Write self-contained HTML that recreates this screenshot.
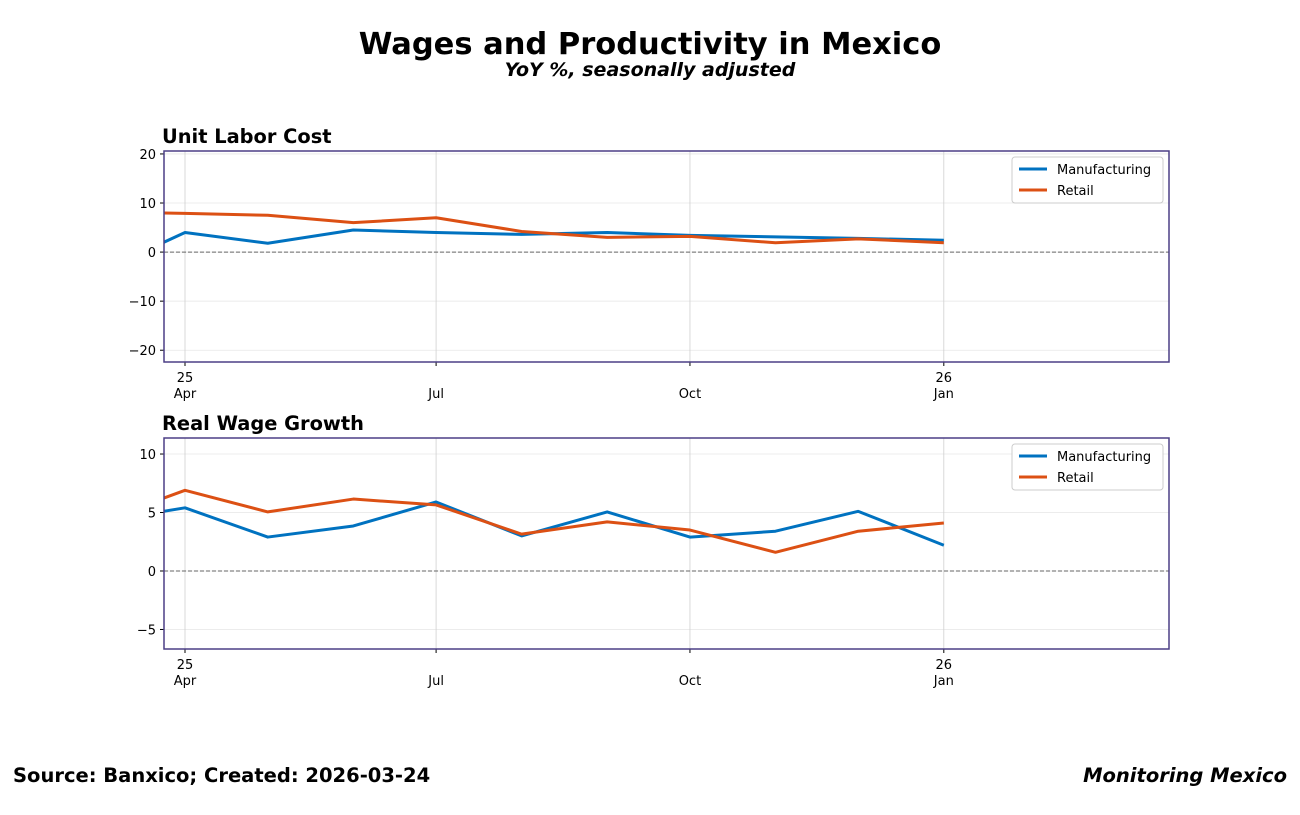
<!DOCTYPE html>
<html><head><meta charset="utf-8">
<style>
body{margin:0;background:#fff;font-family:"Liberation Sans","DejaVu Sans",sans-serif;}
svg text{font-family:"DejaVu Sans","Liberation Sans",sans-serif;}
</style></head>
<body>
<svg id="chart" width="1300" height="810" xmlns="http://www.w3.org/2000/svg">
<text x="650" y="54" text-anchor="middle" font-size="30.5" font-weight="bold">Wages and Productivity in Mexico</text>
<text x="650" y="76" text-anchor="middle" font-size="19" font-weight="bold" font-style="italic">YoY %, seasonally adjusted</text>
<text x="13" y="782" font-size="19.5" font-weight="bold">Source: Banxico; Created: 2026-03-24</text>
<text x="1287" y="782" text-anchor="end" font-size="19.5" font-weight="bold" font-style="italic">Monitoring Mexico</text>
</svg>
<script>
const months = ["2025-03-01","2025-04-01","2025-05-01","2025-06-01","2025-07-01","2025-08-01","2025-09-01","2025-10-01","2025-11-01","2025-12-01","2026-01-01"];
const ulcManufacturing = [-4.1,4.0,1.8,4.5,4.0,3.6,4.0,3.4,3.1,2.8,2.4];
const ulcRetail = [8.2,7.9,7.5,6.0,7.0,4.2,3.0,3.2,1.9,2.7,1.9];
const rwgManufacturing = [4.2,5.4,2.9,3.85,5.9,3.0,5.05,2.9,3.4,5.1,2.2];
const rwgRetail = [4.2,6.9,5.05,6.15,5.65,3.15,4.2,3.5,1.6,3.4,4.1];
const ulcTicks = [-20,-10,0,10,20];
const rwgTicks = [-5,0,5,10];
const xTickDates = ["2025-04-01","2025-07-01","2025-10-01","2026-01-01"];
const xTickTop = ["25","","","26"];
const xTickBottom = ["Apr","Jul","Oct","Jan"];

const NS="http://www.w3.org/2000/svg";
const svg=document.getElementById('chart');
function mk(tag,attrs,parent){const e=document.createElementNS(NS,tag);for(const k in attrs)e.setAttribute(k,attrs[k]);(parent||svg).appendChild(e);return e;}
const day=864e5;
const x0=Date.parse("2025-04-01"), px0=185, pxPerDay=2.7593;
const xScale=d=>px0+(Date.parse(d)-x0)/day*pxPerDay;

function panel(id,title,top,bottom,ymin,ymax,ticks,s1,s2){
  const L=164,R=1169;
  const y=v=>bottom-(v-ymin)/(ymax-ymin)*(bottom-top);
  const g=mk('g',{});
  
  
  const cp=mk('clipPath',{id:id+'clip'},g);mk('rect',{x:L,y:top,width:R-L,height:bottom-top},cp);
  const t=mk('text',{x:162,y:top-8,'font-size':19.4,'font-weight':'bold'},g);t.textContent=title;
  
  
  ticks.forEach(v=>{
    const yy=y(v);
    const gl=mk('line',{x1:L,x2:R,y1:yy,y2:yy,stroke:'#e6e6e6','stroke-width':0.8},g);
    
    
    mk('line',{x1:L-4,x2:L,y1:yy,y2:yy,stroke:'#000'},g);
    const tx=mk('text',{x:L-8,y:yy+5,'text-anchor':'end','font-size':13},g);
    tx.textContent=v<0?'\u2212'+Math.abs(v):v;
    
    
  });
  xTickDates.forEach((d,i)=>{
    const xx=xScale(d);
    const gl=mk('line',{x1:xx,x2:xx,y1:top,y2:bottom,stroke:'#d0d0d0','stroke-width':0.8},g);
    
    
    mk('line',{x1:xx,x2:xx,y1:bottom,y2:bottom+4,stroke:'#000'},g);
    if(xTickTop[i]){const a=mk('text',{x:xx,y:bottom+20,'text-anchor':'middle','font-size':13},g);a.textContent=xTickTop[i];
      
      }
    const b=mk('text',{x:xx,y:bottom+36,'text-anchor':'middle','font-size':13},g);b.textContent=xTickBottom[i];
    
    
  });
  const zl=mk('line',{x1:L,x2:R,y1:y(0),y2:y(0),stroke:'#666','stroke-width':1,'stroke-dasharray':'4,2'},g);
  
  
  [[s1,'#0072c0','manufacturing'],[s2,'#dc5014','retail']].forEach(([s,c,n])=>{
    const p=mk('polyline',{points:s.map((v,i)=>xScale(months[i])+','+y(v)).join(' '),fill:'none',stroke:c,'stroke-width':3,'clip-path':'url(#'+id+'clip)','stroke-linejoin':'round'},g);
    
    
  });
  const fr=mk('rect',{x:L,y:top,width:R-L,height:bottom-top,fill:'none',stroke:'#4b3f85','stroke-width':1.5},g);
  
  
  const lg=mk('g',{},g);
  
  
  mk('rect',{x:1012,y:top+6,width:151,height:46,rx:3,fill:'#fff',stroke:'#ccc','stroke-width':1},lg);
  [['Manufacturing','#0072c0'],['Retail','#dc5014']].forEach(([n,c],i)=>{
    const yy=top+18+i*21;
    mk('line',{x1:1019,x2:1047,y1:yy,y2:yy,stroke:c,'stroke-width':3},lg);
    const tt=mk('text',{x:1057,y:yy+5,'font-size':13},lg);tt.textContent=n;
    
    
  });
}
panel('unit-labor-cost','Unit Labor Cost',151,362,-22.4,20.6,ulcTicks,ulcManufacturing,ulcRetail);
panel('real-wage-growth','Real Wage Growth',438,649,-6.67,11.37,rwgTicks,rwgManufacturing,rwgRetail);
</script>
</body></html>
